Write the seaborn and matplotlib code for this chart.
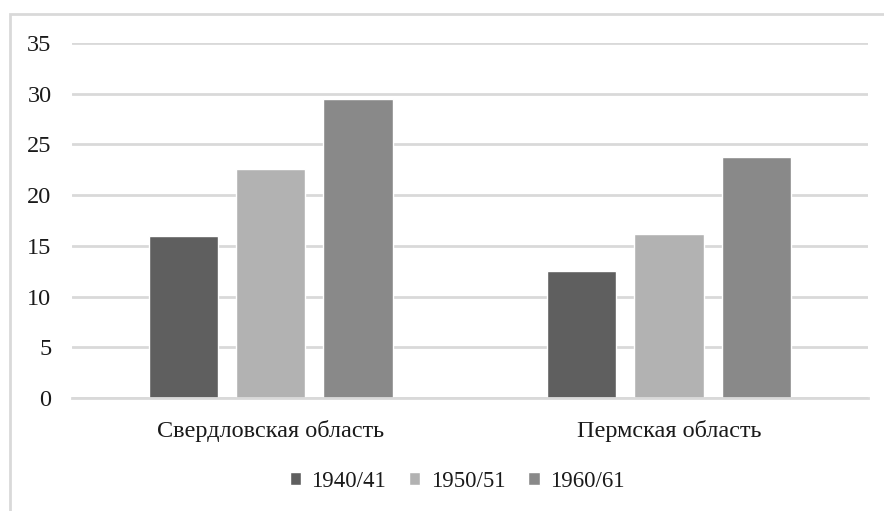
import matplotlib
matplotlib.use('Agg')
import matplotlib.pyplot as plt
import pandas as pd
import seaborn as sns
from matplotlib.patches import Rectangle

# data
regions = ['Свердловская область', 'Пермская область']
years = ['1940/41', '1950/51', '1960/61']
values_1940 = [16.0, 12.5]
values_1950 = [22.6, 16.2]
values_1960 = [29.5, 23.8]
colors = ['#5f5f5f', '#b2b2b2', '#898989']

df = pd.DataFrame({
    'region': regions * 3,
    'year': [years[0]] * 2 + [years[1]] * 2 + [years[2]] * 2,
    'value': values_1940 + values_1950 + values_1960,
})

sns.set_theme(style='white')
plt.rcParams['font.family'] = ['Liberation Serif', 'DejaVu Serif']

fig = plt.figure(figsize=(8.84, 5.11), dpi=100)
ax = fig.add_axes([0.081, 0.221, 0.901, 0.695])

sns.barplot(data=df, x='region', y='value', hue='year', palette=colors,
            width=0.657, gap=0.207, saturation=1, ax=ax, legend=True)

ax.set_ylim(0, 35)
ax.set_xlim(-0.5, 1.5)
ax.set_yticks(range(0, 36, 5))
ax.yaxis.grid(True, color='#d9d9d9', linewidth=2)
ax.set_axisbelow(True)
for s in ['top', 'right', 'left']:
    ax.spines[s].set_visible(False)
ax.spines['bottom'].set_color('#d9d9d9')
ax.spines['bottom'].set_linewidth(2)
ax.tick_params(axis='y', length=0, pad=14.5, labelsize=17.5, colors='#1a1a1a')
ax.tick_params(axis='x', length=0, pad=16, labelsize=17.5, colors='#1a1a1a')
ax.set_xlabel('')
ax.set_ylabel('')

handles, labels = ax.get_legend_handles_labels()
ax.get_legend().remove()
fig.legend(handles, labels, loc='center', bbox_to_anchor=(457 / 884, 1 - 481 / 511),
           ncol=3, frameon=False, fontsize=16.5, handlelength=0.5, handleheight=0.5,
           handletextpad=0.45, columnspacing=1.0, labelcolor='#1a1a1a')

# chart border (light grey, cut off at right and bottom)
fig.patches.append(Rectangle((10 / 884, -0.1), 1.2, 1.1 - 14 / 511,
                             transform=fig.transFigure, fill=False,
                             edgecolor='#d9d9d9', linewidth=2))

fig.savefig('out.png', dpi=100)
